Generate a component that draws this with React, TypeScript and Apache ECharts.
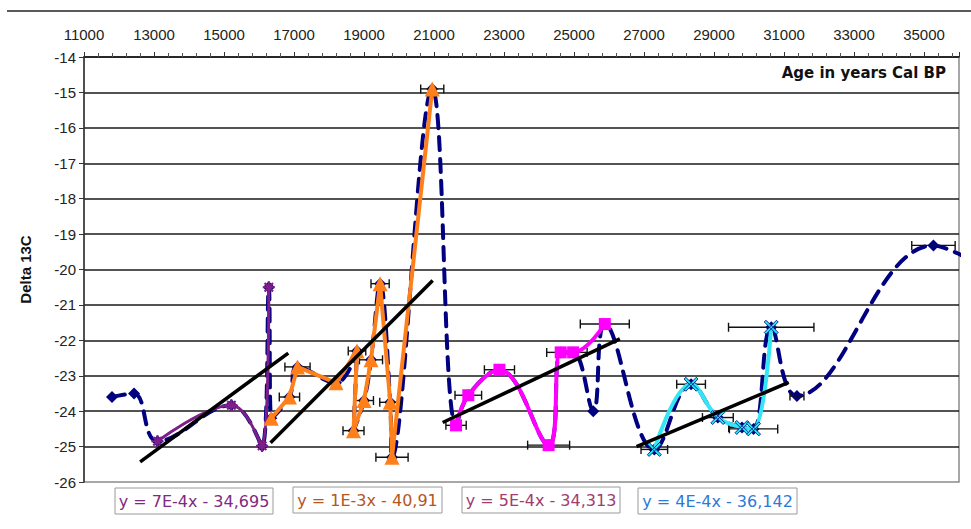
import React, { useEffect, useRef } from "react";
import * as echarts from "echarts";

// ---- Data ----
// Main (dark navy, dashed) series: age in years cal BP and delta 13C
const navyAge = [11800, 12430, 13100, 15210, 16090, 16280, 16350, 16870, 17100, 18200, 18800, 18700, 19000, 19200, 19460, 19750, 19800, 20950, 21630, 21980, 22870, 24275, 24620, 24975, 25550, 25880, 27295, 28345, 29110, 29800, 30130, 30635, 31370, 35270, 36200];
const navyD13C = [-23.6, -23.5, -24.85, -23.83, -24.98, -20.5, -24.2, -23.6, -22.75, -23.2, -22.3, -24.55, -23.7, -22.55, -20.4, -23.75, -25.3, -14.9, -24.4, -23.55, -22.83, -24.96, -22.34, -22.34, -24.0, -21.54, -25.08, -23.24, -24.18, -24.46, -24.5, -21.63, -23.57, -19.32, -19.66];

const purpleAge = [13100, 15210, 16090, 16280];
const purpleD13C = [-24.85, -23.83, -24.98, -20.5];

const orangeAge = [16350, 16870, 17100, 18200, 18800, 18700, 19000, 19200, 19460, 19750, 19800, 20950];
const orangeD13C = [-24.2, -23.6, -22.75, -23.2, -22.3, -24.55, -23.7, -22.55, -20.4, -23.75, -25.3, -14.9];

const magentaAge = [21630, 21980, 22870, 24275, 24620, 24975, 25880];
const magentaD13C = [-24.4, -23.55, -22.83, -24.96, -22.34, -22.34, -21.54];

const cyanAge = [27295, 28345, 29110, 29800, 30130, 30635];
const cyanD13C = [-25.08, -23.24, -24.18, -24.46, -24.5, -21.63];

// Trend line end points
const trend1Age = [12605, 16837];
const trend1D13C = [-25.43, -22.36];
const trend2Age = [16330, 20962];
const trend2D13C = [-24.89, -20.31];
const trend3Age = [21249, 26310];
const trend3D13C = [-24.32, -21.96];
const trend4Age = [26788, 31135];
const trend4D13C = [-25.0, -23.19];

const trendLabels = ["y = 7E-4x - 34,695", "y = 1E-3x - 40,91", "y = 5E-4x - 34,313", "y = 4E-4x - 36,142"];

// Horizontal (age) error bars
const errAge = [16870, 17100, 18800, 18700, 19000, 19200, 19460, 19750, 19800, 20950, 21630, 21980, 22870, 24275, 24620, 24975, 25880, 27295, 28345, 29110, 29800, 30130, 30635, 31370, 35270];
const errD13C = [-23.6, -22.75, -22.3, -24.55, -23.7, -22.55, -20.4, -23.75, -25.3, -14.9, -24.4, -23.55, -22.83, -24.96, -22.34, -22.34, -21.54, -25.08, -23.24, -24.18, -24.46, -24.5, -21.63, -23.57, -19.32];
const errHalf = [290, 360, 250, 300, 270, 330, 260, 300, 460, 330, 290, 380, 430, 600, 400, 400, 700, 380, 410, 440, 380, 690, 1220, 200, 620];

const xTitle = "Age in years Cal BP";
const yTitle = "Delta 13C";

const ASTERISK =
  "path://M-1,-0.18L1,-0.18L1,0.18L-1,0.18Z M-0.18,-1L0.18,-1L0.18,1L-0.18,1Z M-0.83,-0.58L-0.58,-0.83L0.83,0.58L0.58,0.83Z M0.58,-0.83L0.83,-0.58L-0.58,0.83L-0.83,0.58Z";
const XMARK = "path://M-1,-0.75L-0.75,-1L1,0.75L0.75,1Z M0.75,-1L1,-0.75L-0.75,1L-1,0.75Z";

const pairs = (a: number[], b: number[]) => a.map((v, i) => [v, b[i]]);

export default function App() {
  const ref = useRef<HTMLDivElement>(null);

  useEffect(() => {
    if (!ref.current) return;
    const chart = echarts.init(ref.current, undefined, { renderer: "svg" });

    const navyData = navyAge.map((a, i) =>
      i === navyAge.length - 1 ? { value: [a, navyD13C[i]], symbol: "none" } : [a, navyD13C[i]]
    );

    const trendSeries = [
      [trend1Age, trend1D13C],
      [trend2Age, trend2D13C],
      [trend3Age, trend3D13C],
      [trend4Age, trend4D13C],
    ].map(([a, b]) => ({
      type: "line",
      data: pairs(a, b),
      symbol: "none",
      lineStyle: { color: "#000", width: 3.5 },
      z: 6,
      silent: true,
    }));

    const boxes = [
      { x: 115, y: 488, w: 158, color: "#7E2A82" },
      { x: 293, y: 487, w: 149, color: "#B4561E" },
      { x: 462, y: 487, w: 158, color: "#A23A73" },
      { x: 638, y: 488, w: 159, color: "#2D7AD6" },
    ];

    const option: any = {
      animation: false,
      backgroundColor: "#fff",
      title: {
        text: xTitle,
        right: 25,
        top: 65,
        padding: 0,
        textStyle: { fontFamily: "DejaVu Sans", fontWeight: "bold", fontSize: 15, color: "#111" },
      },
      grid: {
        left: 84,
        right: 12,
        top: 57,
        bottom: 47,
        show: true,
        borderColor: "#8a8a8a",
        borderWidth: 1.5,
        outerBoundsMode: "none",
      },
      xAxis: {
        type: "value",
        position: "top",
        min: 11000,
        max: 36000,
        interval: 2000,
        axisLine: { show: true, onZero: false, lineStyle: { color: "#222", width: 1.5 } },
        axisTick: { show: true, inside: false, length: 5, lineStyle: { color: "#333", width: 1 } },
        minorTick: { show: true, splitNumber: 5, length: 4, lineStyle: { color: "#555", width: 1 } },
        splitLine: { show: false },
        axisLabel: {
          fontSize: 15,
          color: "#222",
          fontFamily: "Liberation Sans",
          margin: 15,
          showMaxLabel: false,
          formatter: (v: number) => String(v),
        },
      },
      yAxis: {
        type: "value",
        min: -26,
        max: -14,
        interval: 1,
        axisLine: { show: true, onZero: false, lineStyle: { color: "#333", width: 1.5 } },
        axisTick: { show: true, length: 5, lineStyle: { color: "#333" } },
        splitLine: {
          show: true,
          showMinLine: false,
          lineStyle: { color: "#1a1a1a", width: 1.6 },
        },
        axisLabel: { fontSize: 15, color: "#222", fontFamily: "Liberation Sans", margin: 8 },
        name: yTitle,
        nameLocation: "middle",
        nameRotate: 90,
        nameGap: 51,
        nameTextStyle: { fontFamily: "Liberation Sans", fontWeight: "bold", fontSize: 15, color: "#111" },
      },
      graphic: [
        {
          type: "line",
          shape: { x1: 7, y1: 11, x2: 971, y2: 11 },
          style: { stroke: "#222", lineWidth: 1.5 },
        },
        ...boxes.map((b, i) => ({
          type: "group",
          children: [
            {
              type: "rect",
              shape: { x: b.x, y: b.y, width: b.w, height: 26 },
              style: { fill: "#fff", stroke: "#9a9a9a", lineWidth: 1 },
            },
            {
              type: "text",
              x: b.x + b.w / 2,
              y: b.y + 13,
              style: {
                text: trendLabels[i],
                fill: b.color,
                font: "16px 'DejaVu Sans'",
                textAlign: "center",
                textVerticalAlign: "middle",
              },
            },
          ],
        })),
      ],
      series: [
        {
          type: "line",
          data: navyData,
          smooth: 0.4,
          symbol: "diamond",
          symbolSize: 12,
          itemStyle: { color: "#000080" },
          lineStyle: { color: "#000080", width: 4, type: [13, 9], cap: "round" },
          clip: false,
          z: 2,
        },
        {
          type: "custom",
          data: errAge.map((a, i) => [a, errD13C[i], errHalf[i]]),
          encode: { x: 0, y: 1 },
          z: 3,
          silent: true,
          renderItem: (params: any, api: any) => {
            const x = api.value(0);
            const y = api.value(1);
            const e = api.value(2);
            const p1 = api.coord([x - e, y]);
            const p2 = api.coord([x + e, y]);
            const cap = 4.5;
            const st = { stroke: "#111", lineWidth: 1.4 };
            return {
              type: "group",
              children: [
                { type: "line", shape: { x1: p1[0], y1: p1[1], x2: p2[0], y2: p2[1] }, style: st },
                { type: "line", shape: { x1: p1[0], y1: p1[1] - cap, x2: p1[0], y2: p1[1] + cap }, style: st },
                { type: "line", shape: { x1: p2[0], y1: p2[1] - cap, x2: p2[0], y2: p2[1] + cap }, style: st },
              ],
            };
          },
        },
        {
          type: "line",
          data: pairs(purpleAge, purpleD13C),
          smooth: 0.4,
          symbol: ASTERISK,
          symbolSize: 12,
          itemStyle: { color: "#7E1E88" },
          lineStyle: { color: "#7E1E88", width: 3 },
          z: 4,
        },
        {
          type: "line",
          data: pairs(orangeAge, orangeD13C),
          symbol: "triangle",
          symbolSize: 15,
          itemStyle: { color: "#FF7F1A" },
          lineStyle: { color: "#FF7F1A", width: 4 },
          z: 4,
        },
        {
          type: "line",
          data: pairs(magentaAge, magentaD13C),
          smooth: 0.4,
          symbol: "rect",
          symbolSize: 12,
          itemStyle: { color: "#FF00FF" },
          lineStyle: { color: "#FF00FF", width: 4 },
          z: 4,
        },
        {
          type: "line",
          data: pairs(cyanAge, cyanD13C),
          smooth: 0.4,
          symbol: XMARK,
          symbolSize: 14,
          itemStyle: { color: "#22E5F2", borderColor: "#000080", borderWidth: 0.8 },
          lineStyle: { color: "#33E6F5", width: 4 },
          z: 4,
        },
        ...trendSeries,
      ],
    };

    chart.setOption(option);
    return () => chart.dispose();
  }, []);

  return (
    <div
      ref={ref}
      style={{ position: "absolute", left: 0, top: 0, width: 971, height: 529, background: "#fff" }}
    />
  );
}
